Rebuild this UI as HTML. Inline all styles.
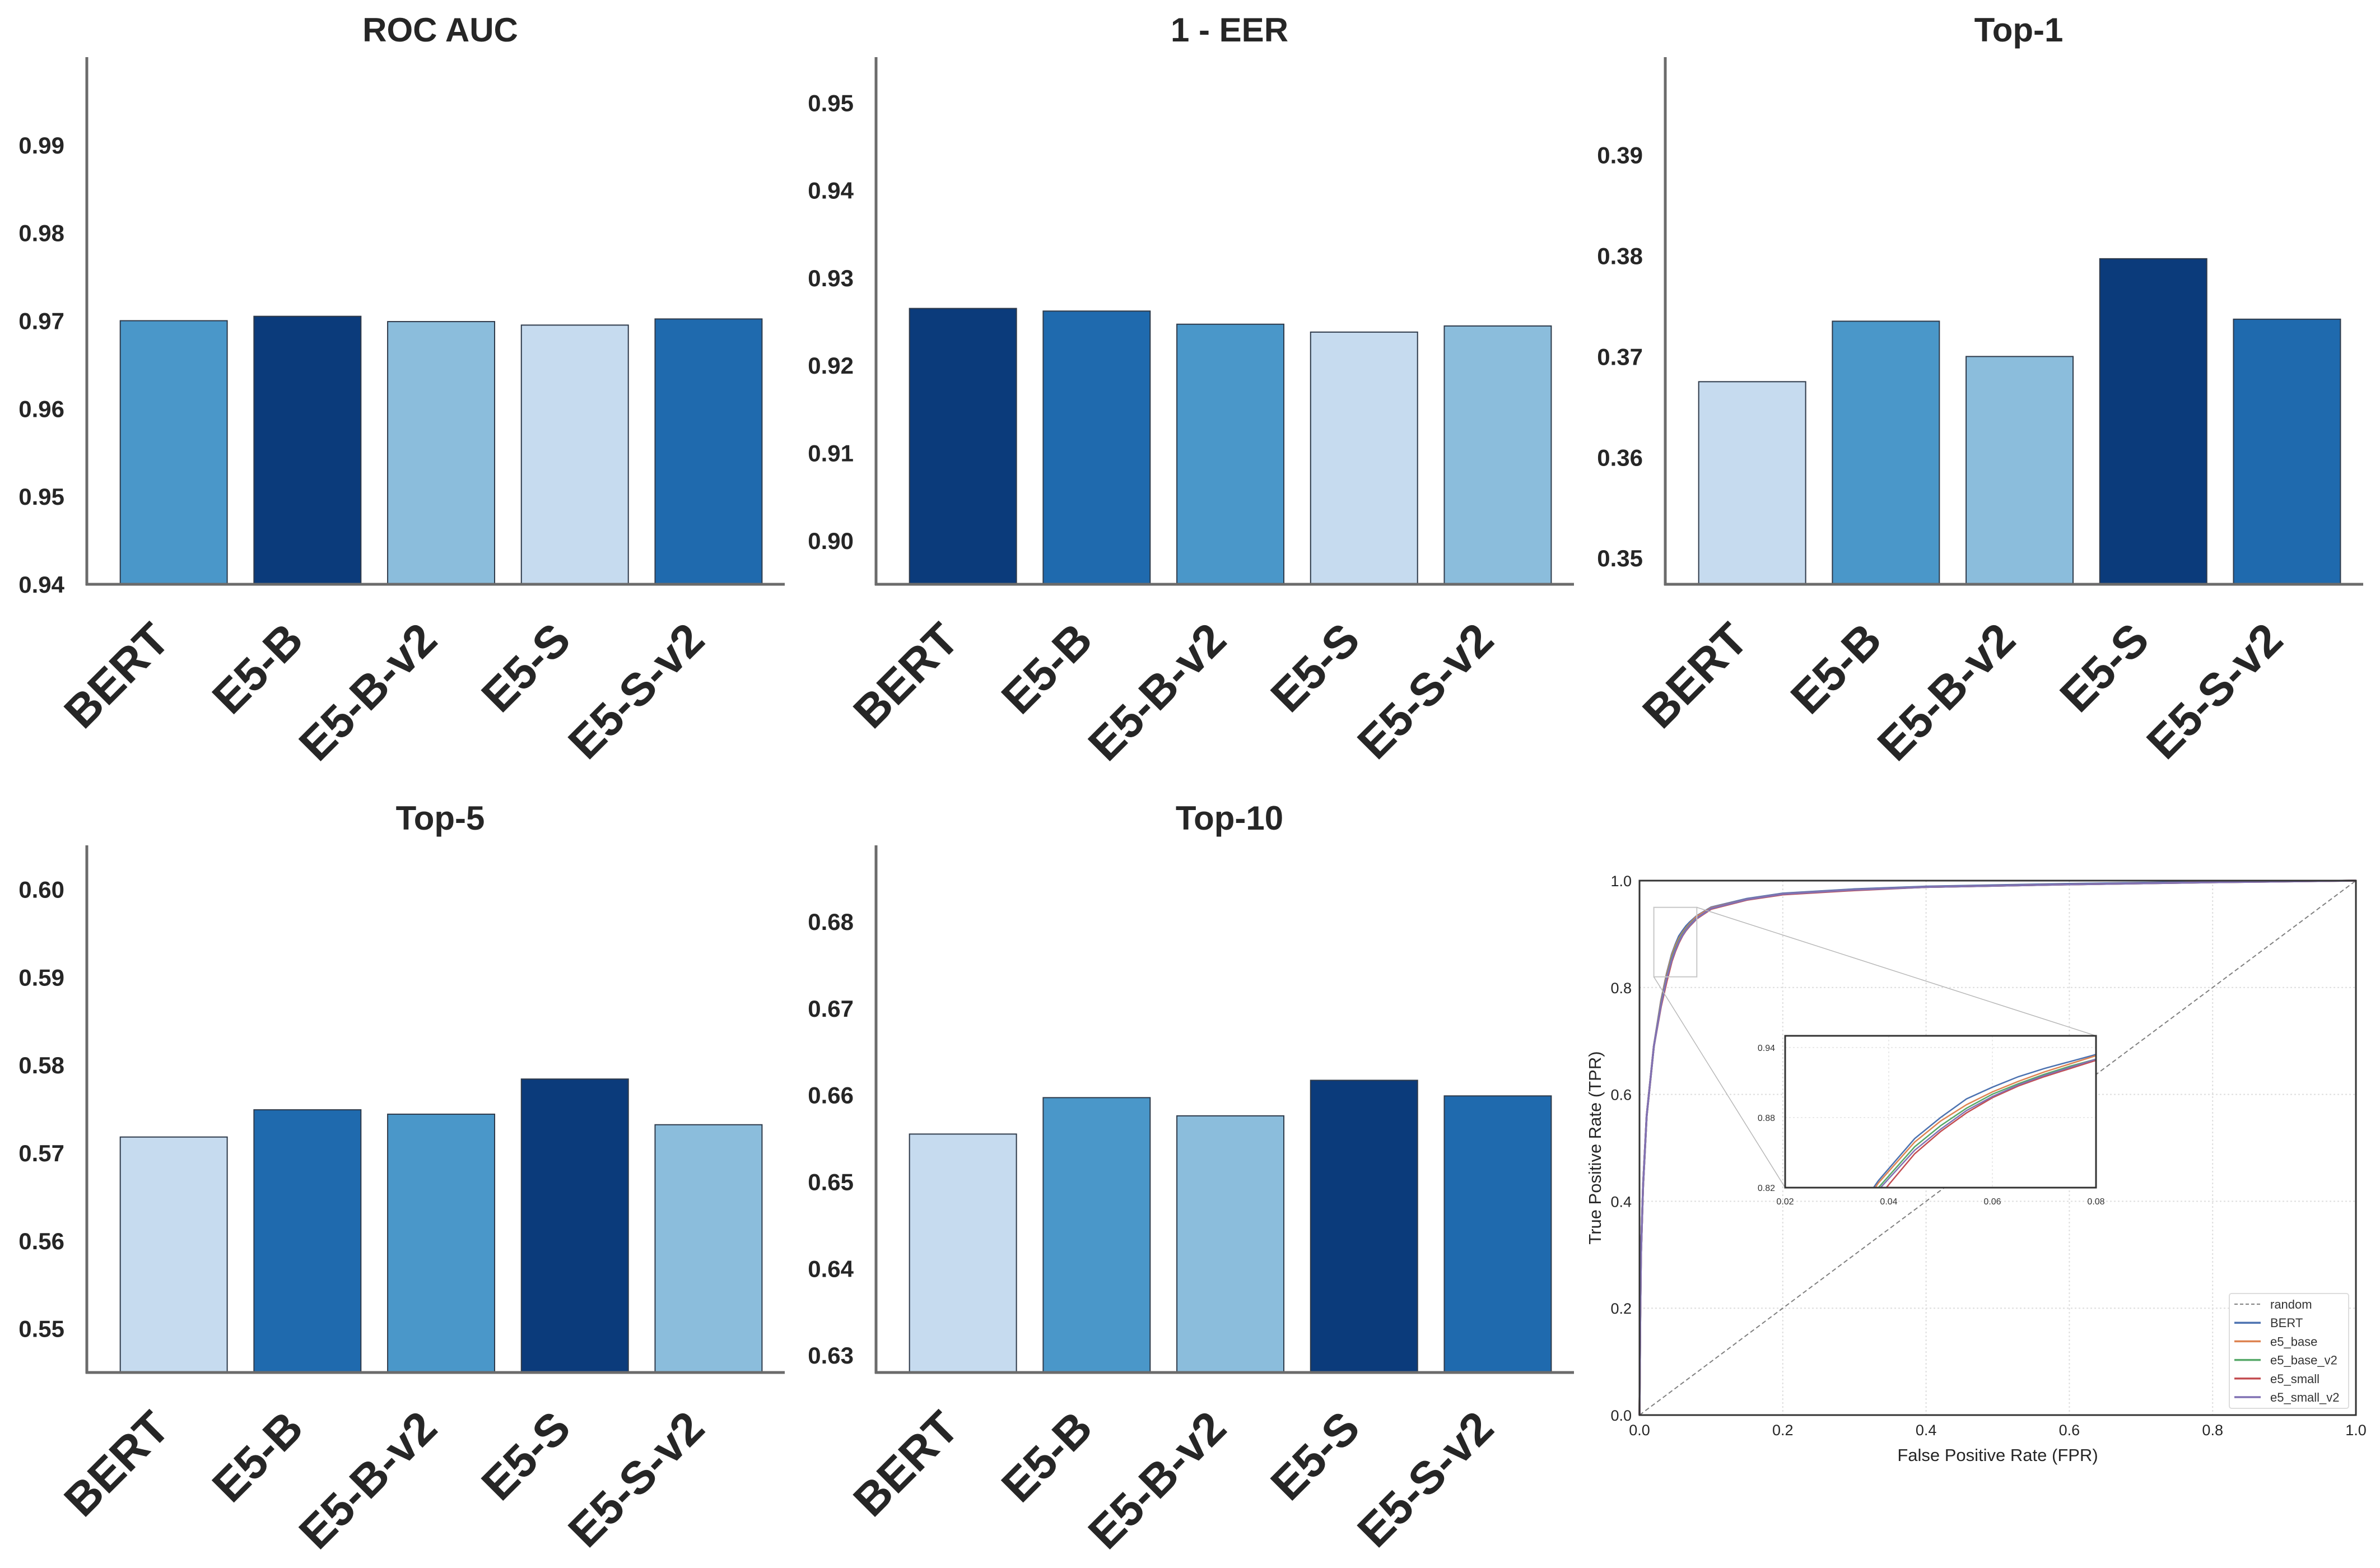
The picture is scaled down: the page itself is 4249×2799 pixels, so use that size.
<!DOCTYPE html>
<html><head><meta charset="utf-8"><style>
html,body{margin:0;padding:0;background:#fff;overflow:hidden;}
svg{display:block;font-family:"Liberation Sans",Arial,sans-serif;}
</style></head><body>
<svg id="fig" width="4249" height="2799" viewBox="0 0 4249 2799"></svg>
<script>
const categories = ["BERT","E5-B","E5-B-v2","E5-S","E5-S-v2"];
const rocAucValues = [0.9700,0.9705,0.9699,0.9695,0.9702];
const eerValues = [0.9265,0.9262,0.9247,0.9238,0.9245];
const top1Values = [0.3675,0.3735,0.3700,0.3797,0.3737];
const top5Values = [0.5718,0.5749,0.5744,0.5784,0.5732];
const top10Values = [0.6555,0.6597,0.6576,0.6617,0.6599];
const rocAucTicks = [0.94,0.95,0.96,0.97,0.98,0.99];
const eerTicks = [0.90,0.91,0.92,0.93,0.94,0.95];
const top1Ticks = [0.35,0.36,0.37,0.38,0.39];
const top5Ticks = [0.55,0.56,0.57,0.58,0.59,0.60];
const top10Ticks = [0.63,0.64,0.65,0.66,0.67,0.68];
const rocAucLim = [0.94,1.0];
const eerLim = [0.895,0.9552];
const top1Lim = [0.3474,0.3997];
const top5Lim = [0.545,0.605];
const top10Lim = [0.628,0.6888];

// ROC curve data
const rocFpr = [0,0.001,0.002,0.005,0.01,0.02,0.03,0.038,0.045,0.05,0.055,0.06,0.065,0.07,0.075,0.08,0.1,0.15,0.2,0.3,0.4,0.6,0.8,1.0];
const rocBert =      [0,0.18,0.30,0.43,0.56,0.69,0.775,0.826,0.862,0.880,0.896,0.906,0.915,0.922,0.928,0.934,0.950,0.966,0.976,0.984,0.989,0.994,0.998,1.0];
const rocE5Base =    [0,0.18,0.30,0.43,0.56,0.69,0.773,0.824,0.859,0.877,0.891,0.902,0.911,0.919,0.926,0.933,0.949,0.965,0.975,0.983,0.988,0.993,0.997,1.0];
const rocE5BaseV2 =  [0,0.18,0.30,0.43,0.56,0.69,0.770,0.820,0.855,0.873,0.888,0.900,0.909,0.917,0.924,0.930,0.948,0.965,0.975,0.983,0.988,0.993,0.997,1.0];
const rocE5Small =   [0,0.18,0.30,0.43,0.56,0.69,0.765,0.812,0.849,0.868,0.884,0.897,0.907,0.915,0.922,0.929,0.947,0.964,0.974,0.982,0.988,0.993,0.997,1.0];
const rocE5SmallV2 = [0,0.18,0.30,0.43,0.56,0.69,0.768,0.818,0.852,0.870,0.886,0.898,0.908,0.916,0.923,0.930,0.948,0.965,0.975,0.983,0.988,0.993,0.997,1.0];
const rocNames = ["BERT","e5_base","e5_base_v2","e5_small","e5_small_v2"];
const rocTicks = [0,0.2,0.4,0.6,0.8,1.0];
const rocTickLabels = ["0.0","0.2","0.4","0.6","0.8","1.0"];
const insetXTicks = [0.02,0.04,0.06,0.08];
const insetYTicks = [0.82,0.88,0.94];

const NS="http://www.w3.org/2000/svg";
const svg=document.getElementById('fig');
function el(tag,attrs,parent,text){const e=document.createElementNS(NS,tag);for(const k in attrs)e.setAttribute(k,attrs[k]);if(text!==undefined)e.textContent=text;(parent||svg).appendChild(e);return e;}

const C0='#c6dbef',C1='#8bbddc',C2='#4a97c9',C3='#1f6aae',C4='#0b3b7b';
const panels=[
 {name:'roc-auc',title:'ROC AUC',vals:rocAucValues,ticks:rocAucTicks,lim:rocAucLim,L:155,T:102,cols:[C2,C4,C1,C0,C3]},
 {name:'one-minus-eer',title:'1 - EER',vals:eerValues,ticks:eerTicks,lim:eerLim,L:1564,T:102,cols:[C4,C3,C2,C0,C1]},
 {name:'top-1',title:'Top-1',vals:top1Values,ticks:top1Ticks,lim:top1Lim,L:2973,T:102,cols:[C0,C2,C1,C4,C3]},
 {name:'top-5',title:'Top-5',vals:top5Values,ticks:top5Ticks,lim:top5Lim,L:155,T:1509,cols:[C0,C3,C2,C4,C1]},
 {name:'top-10',title:'Top-10',vals:top10Values,ticks:top10Ticks,lim:top10Lim,L:1564,T:1509,cols:[C0,C2,C1,C4,C3]},
];
const W=1246,H=941;
panels.forEach(p=>{
 const g=el('g',{});
 
 
 const B=p.T+H;
 const y=v=>B-(v-p.lim[0])/(p.lim[1]-p.lim[0])*H;
 const step=W/5.22;
 const x=i=>p.L+(i+0.65)*step;
 const t=el('text',{x:p.L+W/2+8,y:p.T-28,'text-anchor':'middle','font-size':60,'font-weight':'bold',fill:'#262626'},g,p.title);
 
 
 p.vals.forEach((v,i)=>{
  const r=el('rect',{x:x(i)-0.4*step,y:y(v),width:0.8*step,height:B-y(v),fill:p.cols[i],stroke:'#2e3a4a','stroke-width':2},g);
  
  
  const ax=x(i)-3, ay=B+104;
  const lb=el('text',{x:ax,y:ay,'text-anchor':'end','font-size':82,'font-weight':'bold',fill:'#262626',transform:'rotate(-45 '+ax+' '+ay+')'},g,categories[i]);
  
  
 });
 p.ticks.forEach(tv=>{
  const tl=el('text',{x:p.L-40,y:y(tv)+15,'text-anchor':'end','font-size':42,'font-weight':'bold',fill:'#262626'},g,tv.toFixed(2));
  
  
 });
 const ys=el('line',{x1:p.L,y1:p.T,x2:p.L,y2:B+2,stroke:'#6b6b6b','stroke-width':5},g);
 
 
 const xs=el('line',{x1:p.L-2,y1:B,x2:p.L+W,y2:B,stroke:'#6b6b6b','stroke-width':5},g);
 
 
});

// ROC panel
const RL=2927,RR=4206,RT=1572,RB=2526;
const rg=el('g',{});


const rx=v=>RL+v*(RR-RL), ry=v=>RB-v*(RB-RT);
rocTicks.forEach((tv,i)=>{
 el('line',{x1:rx(tv),y1:RT,x2:rx(tv),y2:RB,stroke:'#dddddd','stroke-width':2,'stroke-dasharray':'3,4'},rg);
 el('line',{x1:RL,y1:ry(tv),x2:RR,y2:ry(tv),stroke:'#dddddd','stroke-width':2,'stroke-dasharray':'3,4'},rg);
 const xl=el('text',{x:rx(tv),y:RB+36,'text-anchor':'middle','font-size':27,fill:'#262626'},rg,rocTickLabels[i]);
 
 
 const yl=el('text',{x:RL-14,y:ry(tv)+10,'text-anchor':'end','font-size':27,fill:'#262626'},rg,rocTickLabels[i]);
 
 
});
const diag=el('line',{x1:rx(0),y1:ry(0),x2:rx(1),y2:ry(1),stroke:'#808080','stroke-width':2,'stroke-dasharray':'8,5'},rg);


const series=[rocBert,rocE5Base,rocE5BaseV2,rocE5Small,rocE5SmallV2];
const scol=['#4c72b0','#dd8452','#55a868','#c44e52','#8172b3'];
series.forEach((s,k)=>{
 const pts=rocFpr.map((f,i)=>rx(f).toFixed(1)+','+ry(s[i]).toFixed(1)).join(' ');
 const pl=el('polyline',{points:pts,fill:'none',stroke:scol[k],'stroke-width':3.5},rg);
 
 
});
const IL=3187,IR=3742,IT=1849,IB=2120;
const zr=el('rect',{x:rx(0.02),y:ry(0.95),width:rx(0.08)-rx(0.02),height:ry(0.82)-ry(0.95),fill:'none',stroke:'#c8c8c8','stroke-width':2},rg);


el('line',{x1:rx(0.08),y1:ry(0.95),x2:IR,y2:IT,stroke:'#b8b8b8','stroke-width':1.5},rg);
el('line',{x1:rx(0.02),y1:ry(0.82),x2:IL,y2:IB,stroke:'#b8b8b8','stroke-width':1.5},rg);
const sp=el('rect',{x:RL,y:RT,width:RR-RL,height:RB-RT,fill:'none',stroke:'#333','stroke-width':3},rg);


const xlab=el('text',{x:(RL+RR)/2,y:RB+82,'text-anchor':'middle','font-size':31,fill:'#262626'},rg,'False Positive Rate (FPR)');


const ylab=el('text',{x:2858,y:(RT+RB)/2,'text-anchor':'middle','font-size':31,fill:'#262626',transform:'rotate(-90 2858 '+((RT+RB)/2)+')'},rg,'True Positive Rate (TPR)');



const ig=el('g',{});


el('rect',{x:IL,y:IT,width:IR-IL,height:IB-IT,fill:'#fff'},ig);
const ix=v=>IL+(v-0.02)/0.06*(IR-IL), iy=v=>IB-(v-0.82)/0.13*(IB-IT);
const defs=el('defs',{},ig);
const cp=el('clipPath',{id:'insetclip'},defs);
el('rect',{x:IL,y:IT,width:IR-IL,height:IB-IT},cp);
insetXTicks.forEach(tv=>{
 el('line',{x1:ix(tv),y1:IT,x2:ix(tv),y2:IB,stroke:'#e2e2e2','stroke-width':1.5,'stroke-dasharray':'3,4'},ig);
 const t=el('text',{x:ix(tv),y:IB+30,'text-anchor':'middle','font-size':16,fill:'#333'},ig,tv.toFixed(2));
 
 
});
insetYTicks.forEach(tv=>{
 el('line',{x1:IL,y1:iy(tv),x2:IR,y2:iy(tv),stroke:'#e2e2e2','stroke-width':1.5,'stroke-dasharray':'3,4'},ig);
 const t=el('text',{x:IL-18,y:iy(tv)+6,'text-anchor':'end','font-size':16,fill:'#333'},ig,tv.toFixed(2));
 
 
});
series.forEach((s,k)=>{
 const pts=rocFpr.map((f,i)=>ix(f).toFixed(1)+','+iy(s[i]).toFixed(1)).join(' ');
 const pl=el('polyline',{points:pts,fill:'none',stroke:scol[k],'stroke-width':2.5,'clip-path':'url(#insetclip)'},ig);
 
 
});
el('rect',{x:IL,y:IT,width:IR-IL,height:IB-IT,fill:'none',stroke:'#333','stroke-width':3},ig);

const lg=el('g',{});


el('rect',{x:3980,y:2309,width:213,height:205,fill:'#fff',stroke:'#dddddd','stroke-width':2,rx:4},lg);
const legNames=['random'].concat(rocNames);
const legCols=['#808080'].concat(scol);
legNames.forEach((n,i)=>{
 const yy=2328+i*33.2;
 el('line',{x1:3989,y1:yy,x2:4036,y2:yy,stroke:legCols[i],'stroke-width':i===0?2:3.5,'stroke-dasharray':i===0?'6,4':'none'},lg);
 const t=el('text',{x:4053,y:yy+8,'font-size':22,fill:'#333'},lg,n);
 
 
});
</script>
</body></html>
